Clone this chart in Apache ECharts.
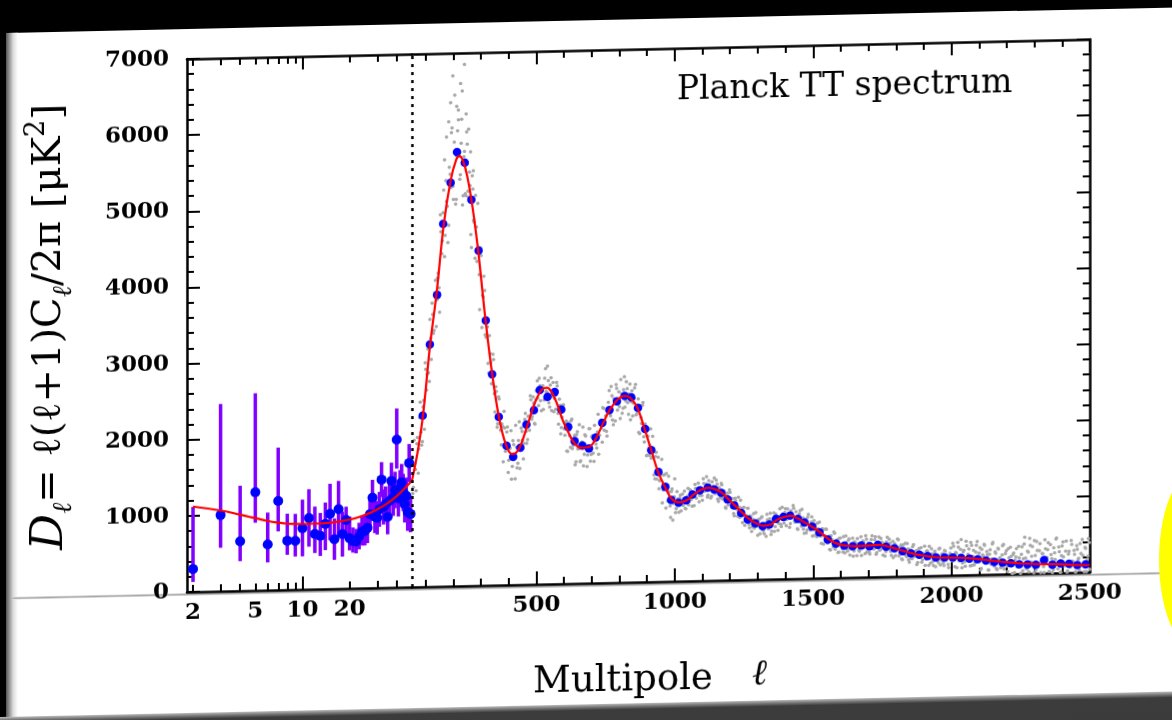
<!DOCTYPE html>
<html>
<head>
<meta charset="utf-8">
<script src="https://cdn.jsdelivr.net/npm/echarts@6/dist/echarts.min.js"></script>
<style>
html, body { margin: 0; padding: 0; width: 1172px; height: 720px; overflow: hidden; background: #000; }
#page { position: absolute; left: 0; top: 0; width: 1172px; height: 720px; transform: skewY(-1.25deg); transform-origin: 187px 0; }
#slide { position: absolute; left: 8px; top: 29px; width: 1250px; height: 686px; background: #fff; }
#edge { position: absolute; left: 6px; top: 29px; width: 12px; height: 686px; background: linear-gradient(to right, #555, #ddd 60%, #fff); }
#cut { position: absolute; left: 12px; top: 593px; width: 1250px; height: 3px; background: linear-gradient(#e4e4e4, #a8a8a8, #eee); }
#floor { position: absolute; left: -60px; top: 713px; width: 1320px; height: 120px; background: linear-gradient(#bbb 0, #777 3px, #3c3c3c 6px, #393939 100%); }
#chart { position: absolute; left: 0; top: 0; width: 1172px; height: 720px; }
#sun { position: absolute; left: 1159px; top: 467px; width: 82px; height: 186px; border-radius: 50%; background: #ffff00; }
</style>
</head>
<body>
<div id="page">
  <div id="slide"></div>
  <div id="edge"></div>
  <div id="cut"></div>
  <div id="floor"></div>
  <div id="chart"></div>
</div>
<div id="sun"></div>
<script>
// low multipoles (log part of the axis)
var LOW_L = [2,3,4,5,6,7,8,9,10,11,12,13,14,15,16,17,18,19,20,21,22,23,24,25,26,27,28,29,30,31,32,33,34,35,36,37,38,39,40,41,42,43,44,45,46,47,48,49];
var LOW_D = [300,1000,650,1290,600,1170,645,640,805,935,725,700,855,985,650,1045,715,900,660,620,615,680,745,750,790,970,1185,935,920,1030,1420,1060,1100,930,1140,1400,1180,1280,1940,1170,1300,1380,1250,1090,1200,985,1630,960];
var LOW_LO = [130,570,390,890,365,770,460,435,435,560,475,435,510,640,380,685,420,680,500,470,460,510,560,560,590,760,950,720,700,800,1190,830,870,700,910,1160,940,1040,1560,930,1060,1140,1000,850,960,740,1380,720];
var LOW_HI = [1115,2460,1380,2590,1020,1870,1000,995,1180,1315,1085,1000,1135,1380,925,1415,1010,1075,945,800,780,860,940,950,1000,1190,1420,1150,1140,1260,1650,1290,1330,1160,1370,1640,1420,1520,2350,1410,1540,1620,1490,1330,1440,1230,1880,1200];

// best-fit model (red)
var THEORY_LOW_L = [2,3,4,5,6,7,8,10,12,15,20,25,30,35,40,45,50];
var THEORY_LOW_D = [1120,1060,1000,950,910,885,870,860,860,870,905,960,1030,1110,1200,1300,1400];
var THEORY_L = [50,70,90,115,140,165,190,210,222,235,250,270,290,315,340,365,390,412,428,445,470,495,520,538,555,575,595,615,640,665,690,715,740,765,795,820,840,865,890,915,940,965,990,1015,1045,1070,1095,1120,1145,1170,1195,1220,1245,1270,1295,1320,1345,1370,1395,1420,1445,1470,1500,1530,1560,1590,1620,1650,1680,1710,1740,1770,1800,1830,1860,1890,1920,1950,2000,2050,2100,2150,2200,2250,2300,2350,2400,2450,2500];
var THEORY_D = [1400,1760,2250,3150,3880,4750,5330,5600,5650,5580,5380,4950,4380,3520,2780,2200,1840,1720,1740,1850,2120,2390,2560,2580,2520,2360,2150,1990,1830,1780,1790,1900,2090,2270,2410,2450,2420,2290,2020,1730,1440,1240,1080,1035,1065,1140,1195,1220,1200,1150,1060,970,880,795,740,705,715,780,815,830,790,735,670,590,500,445,420,410,412,415,420,398,365,330,298,272,255,240,232,225,205,180,155,138,125,118,112,100,95];

// binned high-l points (blue)
var BIN_L = [89,115,141,163,190,213,241,265,291,317,340,364,392,416,442,464,491,512,540,566,590,615,638,666,690,714,738,764,791,819,843,867,893,915,941,966,987,1014,1041,1064,1091,1119,1143,1168,1191,1215,1240,1264,1291,1318,1342,1366,1393,1417,1445,1469,1497,1523,1553,1583,1613,1643,1674,1704,1734,1764,1794,1824,1854,1884,1914,1944,1975,2005,2035,2065,2095,2125,2155,2185,2215,2245,2275,2305,2335,2365,2395,2425,2455,2485];
var BIN_D = [2250,3180,3830,4760,5300,5700,5560,5070,4400,3480,2770,2210,1830,1680,1800,2100,2290,2550,2460,2520,2290,2060,1870,1810,1770,1910,2100,2270,2380,2450,2430,2290,2010,1730,1440,1245,1070,1030,1060,1135,1190,1220,1195,1150,1060,980,880,790,740,700,720,790,815,830,785,735,680,600,505,450,420,410,418,405,420,395,370,330,300,280,260,240,235,232,225,215,205,185,165,150,140,125,120,115,175,110,125,118,100,105];

// unbinned spectrum (grey dots): two interleaved runs, one value every 5 multipoles
var GREY_STEP = 5;
var GREY_A_L0 = 50;
var GREY_A = [
1715,1310,1625,1265,1963,1812,2428,1860,2363,2070,2858,2790,2812,3510,2985,3575,3365,4023,3767,4118,
3602,4660,4537,5205,4610,5055,4515,5503,5232,6018,5080,5693,5080,5978,5645,5402,6130,5125,5705,5125,5803,5107,5258,4442,5210,4777,5125,4260,4445,3625,4333,
3813,4061,3292,3465,2916,3279,2930,2647,2964,2274,2544,2120,2447,2035,2117,1619,2062,1821,2076,1638,1798,1388,1896,1673,2096,1537,1895,1526,2059,1900,
1855,2250,1855,2210,2025,2425,2205,2380,2105,2545,2445,2705,2410,2590,2295,2707,2533,2863,2380,2615,2280,2645,2440,2295,2600,2098,2345,2053,2345,2035,
2115,1745,2110,1943,2136,1774,1892,1560,1955,1765,2085,1610,1855,1542,1949,1786,1683,2030,1602,1924,1706,2073,1825,1983,1691,2134,2037,2300,2006,2192,
1928,2369,2225,2578,2137,2415,2123,2552,2410,2313,2666,2224,2532,2300,2637,2360,2473,2135,2514,2353,2552,2196,2320,1966,2317,2083,2359,1840,2037,1664,
2011,1788,1625,1912,1404,1646,1348,1635,1325,1405,1035,1400,1225,1418,1056,1174,842,1215,1026,1347,
954,1080,907,1128,1045,994,1183,948,1113,1000,1199,1070,1149,988,1215,1154,1285,1120,1211,1056,1277,1186,1367,1124,1256,1084,1296,1204,1144,1318,
1068,1218,1080,1254,1092,1138,944,1142,1052,1154,960,1022,844,1042,928,1086,820,938,752,951,846,773,940,683,832,693,866,711,764,581,
790,711,824,641,723,565,783,689,867,632,781,626,855,780,731,922,689,856,735,922,781,848,675,894,814,926,742,814,646,851,
744,909,650,775,596,801,702,635,808,558,
699,573,721,582,624,457,631,553,643,474,529,374,554,461,605,379,489,333,518,437,384,540,326,462,348,508,380,434,279,466,
403,509,355,425,286,475,392,546,330,449,303,492,416,368,530,320,461,350,507,378,430,272,458,391,491,331,396,250,434,344,
492,269,383,230,413,330,276,431,216,351,233,389,259,310,152,337,269,370,213,280,138,324,237,388,169,285,136,322,243,191,
351,140,280,167,327,200,255,101,289,225,
421,201,300,99,369,248,467,156,326,115,383,271,199,427,125,323,161,389,207,285,63,330,238,385,163,260,58,325,203,420,
108,275,63,330,218,145,373,70,268,105,333,152,230,8,277,185,333,111,210,8,
354,196,481,77,296,22,372,227,135,433,42,302,93,391,156,260,10,323,206,400,113,243,5,332,176,461,57,278,10,355,
211,118,416,25,284,75,372,137,240,10,304,186,381,94,224,10,314,157,443,39
];
var GREY_B_L0 = 53;
var GREY_B = [
1229,1927,1544,1882,1494,2222,2033,1909,2448,2943,2583,3123,2695,3263,3722,3327,3809,3415,4050,3925,
4883,4370,4908,4332,5330,4990,4742,5410,5955,5250,5830,5017,5643,6123,5343,5815,5005,5638,5150,5963,5185,5433,4612,5385,4800,4302,4710,5020,4085,4435,3387,
3789,3875,3259,3394,2788,3042,2650,3033,2514,2608,2075,2473,2122,1843,2086,2282,1756,2010,1477,1789,2025,1556,1842,1391,1807,1596,2141,1766,2013,1650,
2170,2013,1903,2213,2478,2170,2463,2113,2426,2671,2346,2606,2278,2608,2420,2831,2518,2672,2323,2708,2466,2261,2476,2646,2239,2426,1969,2186,2351,1951,
2136,1736,2016,1789,2162,1815,1948,1599,1994,1774,1599,1844,2051,1693,1935,1532,1804,2028,1690,1937,1599,1936,1773,2216,1939,2142,1850,2292,2118,1989,
2280,2526,2194,2457,2076,2369,2602,2266,2505,2153,2476,2289,2702,2385,2543,2206,2603,2374,2183,2412,2596,2210,2408,1949,2165,2321,1907,2075,1657,1914,
1661,2008,1635,1742,1354,1701,1433,1221,1436,1606,1206,1406,966,1204,1382,990,1183,805,1111,904,
1180,1005,1094,923,1144,1037,954,1095,1218,1041,1184,983,1142,1267,1086,1217,1036,1215,1118,1339,1176,1269,1098,1314,1198,1106,1238,1346,1146,1264,
1038,1172,1274,1067,1169,959,1109,987,1185,999,1069,875,1073,943,837,955,1049,839,950,717,844,939,730,836,633,790,675,880,704,785,
602,811,692,602,740,854,664,794,587,744,869,690,823,640,815,718,941,780,873,700,919,810,725,857,961,761,881,657,791,892,
689,798,595,752,637,842,663,740,554,758,
634,544,650,734,553,651,447,558,641,458,548,369,507,406,586,430,498,338,523,421,339,454,548,377,488,297,421,517,348,452,
285,432,341,531,384,462,308,498,400,324,443,542,375,488,299,426,525,355,456,285,428,333,519,367,439,279,463,359,276,389,
482,308,414,219,339,432,258,358,185,326,230,415,263,336,178,362,260,179,295,391,220,329,137,261,356,186,288,118,262,170,
358,210,286,131,319,221,143,261,358,189,
381,110,289,429,188,337,96,306,175,444,232,340,118,386,244,132,300,438,196,354,81,259,396,154,301,59,266,134,401,189,
296,74,341,199,86,254,391,149,306,34,212,351,109,257,16,224,92,360,149,257,
41,390,207,63,282,463,150,356,10,237,419,106,300,10,260,90,440,167,309,22,373,190,46,267,448,135,343,10,225,406,
93,286,10,245,75,425,150,292,10,356,173,30,250,432,119,327,10,209,390
];
// scattered outliers around the first peak, [l, D]
var GREY_PEAK = [[198,6700],[240,6850],[205,6450],[226,6600],[212,6300],[183,6100],[232,6500],[190,6350],[218,6250],[246,6200],[175,5900],[255,6000],[262,5700],[168,5600],[272,5450]];

// axis ticks and labels
var LOG_LABELS = [2, 5, 10, 20];
var LOG_MINOR = [2, 3, 4, 5, 6, 7, 8, 9, 20, 30, 40];
var LOG_MAJOR = [10];
var LIN_LABELS = [500, 1000, 1500, 2000, 2500];
var LIN_MINOR = [100, 200, 300, 400, 600, 700, 800, 900, 1100, 1200, 1300, 1400, 1600, 1700, 1800, 1900, 2100, 2200, 2300, 2400];
var LIN_MAJOR = [500, 1000, 1500, 2000, 2500];

var chart = echarts.init(document.getElementById("chart"));

var tickFont = { fontFamily: "DejaVu Serif", fontWeight: "bold", fontSize: 23, color: "#000" };
function plain(v) { return String(v); }

function xAxisFor(grid, isLog, position, ticks, len, showLine, labels) {
    return {
        gridIndex: grid,
        type: isLog ? "log" : "value",
        position: position,
        min: isLog ? 1.83 : 50,
        max: isLog ? 50 : 2500,
        axisLine: { show: showLine, onZero: false, lineStyle: { color: "#000", width: 2.5 } },
        axisTick: { show: true, inside: true, length: len, customValues: ticks, lineStyle: { color: "#000", width: 2 } },
        axisLabel: labels ? Object.assign({ show: true, customValues: labels, margin: 10, formatter: plain }, tickFont) : { show: false },
        splitLine: { show: false }
    };
}

function yAxisFor(grid, position, labels) {
    return {
        gridIndex: grid,
        type: "value",
        position: position,
        min: 0,
        max: 7000,
        interval: 1000,
        axisLine: { show: true, onZero: false, lineStyle: { color: "#000", width: 2.5 } },
        axisTick: { show: true, inside: true, length: 13, lineStyle: { color: "#000", width: 2 } },
        minorTick: { show: true, splitNumber: 5, length: 7, lineStyle: { color: "#000", width: 2 } },
        axisLabel: labels ? Object.assign({ show: true, margin: 18, formatter: plain }, tickFont) : { show: false },
        splitLine: { show: false },
        minorSplitLine: { show: false }
    };
}

function run(l0, values) {
    return values.map(function (d, i) { return [l0 + i * GREY_STEP, d]; });
}
var greyData = run(GREY_A_L0, GREY_A).concat(run(GREY_B_L0, GREY_B), GREY_PEAK);

var option = {
    animation: false,
    backgroundColor: "transparent",
    grid: [
        { left: 187, top: 59, width: 225, height: 533 },
        { left: 412, top: 59, width: 678, height: 533 }
    ],
    xAxis: [
        xAxisFor(0, true, "bottom", LOG_MINOR, 7, true, LOG_LABELS),
        xAxisFor(0, true, "bottom", LOG_MAJOR, 13, false, null),
        xAxisFor(0, true, "top", LOG_MINOR, 7, true, null),
        xAxisFor(0, true, "top", LOG_MAJOR, 13, false, null),
        xAxisFor(1, false, "bottom", LIN_MINOR, 7, true, LIN_LABELS),
        xAxisFor(1, false, "bottom", LIN_MAJOR, 13, false, null),
        xAxisFor(1, false, "top", LIN_MINOR, 7, true, null),
        xAxisFor(1, false, "top", LIN_MAJOR, 13, false, null)
    ],
    yAxis: [
        yAxisFor(0, "left", true),
        yAxisFor(1, "right", false)
    ],
    graphic: [{
        type: "text",
        x: 50,
        y: 324,
        rotation: Math.PI / 2,
        style: {
            text: "{d|D}{s|ℓ}{n|= ℓ(ℓ+1)C}{s|ℓ}{n|/2π [μK}{p|2}{n|]}",
            align: "center",
            verticalAlign: "middle",
            fill: "#000",
            rich: {
                d: { fontFamily: "DejaVu Serif", fontStyle: "italic", fontSize: 45, lineHeight: 54, fill: "#000" },
                n: { fontFamily: "DejaVu Serif", fontSize: 40, lineHeight: 54, fill: "#000" },
                s: { fontFamily: "DejaVu Serif", fontStyle: "italic", fontSize: 27, lineHeight: 24, verticalAlign: "bottom", fill: "#000" },
                p: { fontFamily: "DejaVu Serif", fontSize: 27, lineHeight: 24, verticalAlign: "top", fill: "#000" }
            }
        }
    }, {
        type: "text",
        x: 677,
        y: 101,
        style: { text: "Planck TT spectrum", fontFamily: "DejaVu Serif", fontSize: 33, fill: "#000", align: "left", verticalAlign: "middle" }
    }, {
        type: "text",
        x: 533,
        y: 690,
        style: { text: "Multipole", fontFamily: "DejaVu Serif", fontSize: 37, fill: "#000", align: "left", verticalAlign: "middle" }
    }, {
        type: "text",
        x: 752,
        y: 688,
        style: { text: "ℓ", fontFamily: "DejaVu Serif", fontStyle: "italic", fontSize: 36, fill: "#000", align: "left", verticalAlign: "middle" }
    }],
    series: [{
        type: "custom",
        xAxisIndex: 0,
        yAxisIndex: 0,
        data: LOW_L.map(function (l, i) { return [l, LOW_LO[i], LOW_HI[i]]; }),
        encode: { x: 0, y: [1, 2] },
        renderItem: function (params, api) {
            var a = api.coord([api.value(0), api.value(1)]);
            var b = api.coord([api.value(0), api.value(2)]);
            return { type: "line", shape: { x1: a[0], y1: a[1], x2: b[0], y2: b[1] }, style: { stroke: "#8000ff", lineWidth: 3.5 } };
        },
        z: 2
    }, {
        type: "scatter",
        xAxisIndex: 0,
        yAxisIndex: 0,
        data: LOW_L.map(function (l, i) { return [l, LOW_D[i]]; }),
        symbolSize: 10,
        itemStyle: { color: "#0000ff", opacity: 1 },
        z: 3
    }, {
        type: "line",
        xAxisIndex: 0,
        yAxisIndex: 0,
        data: THEORY_LOW_L.map(function (l, i) { return [l, THEORY_LOW_D[i]]; }),
        smooth: true,
        showSymbol: false,
        lineStyle: { color: "#ff0000", width: 2.2 },
        z: 4
    }, {
        type: "scatter",
        xAxisIndex: 4,
        yAxisIndex: 1,
        data: greyData,
        symbolSize: 3.5,
        itemStyle: { color: "#a8a8a8", opacity: 1 },
        markLine: {
            silent: true,
            symbol: ["none", "none"],
            label: { show: false },
            lineStyle: { color: "#000", width: 2.5, type: [3, 5] },
            data: [{ xAxis: 50 }]
        },
        z: 1
    }, {
        type: "scatter",
        xAxisIndex: 4,
        yAxisIndex: 1,
        data: BIN_L.map(function (l, i) { return [l, BIN_D[i]]; }),
        symbolSize: 8.5,
        itemStyle: { color: "#0000ff", opacity: 1 },
        z: 3
    }, {
        type: "line",
        xAxisIndex: 4,
        yAxisIndex: 1,
        data: THEORY_L.map(function (l, i) { return [l, THEORY_D[i]]; }),
        smooth: 0.4,
        showSymbol: false,
        lineStyle: { color: "#ff0000", width: 2.2 },
        z: 4
    }]
};
chart.setOption(option);
</script>
</body>
</html>
